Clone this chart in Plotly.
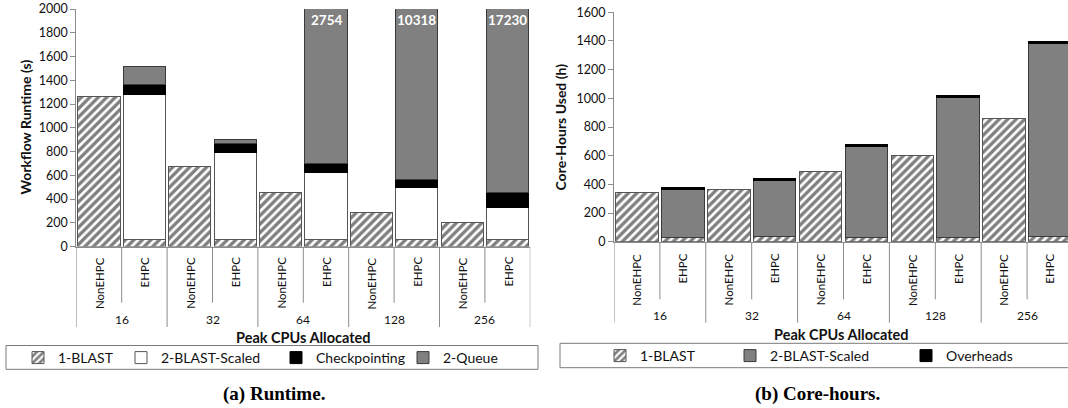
import plotly.graph_objects as go

W, H = 1068, 408

# ---- data -------------------------------------------------------------
cpus = ["16", "32", "64", "128", "256"]
configs = ["NonEHPC", "EHPC"]
categories = [f"{c} {k}" for c in cpus for k in configs]

# Workflow runtime (s), stacked components per bar
rt_blast = [1265, 60, 670, 60, 453, 60, 284, 60, 200, 60]
rt_blast_scaled = [None, 1220, None, 731, None, 564, None, 435, None, 272]
rt_checkpointing = [None, 81, None, 76, None, 74, None, 73, None, 124]
rt_queue = [None, 158, None, 33, None, 2056, None, 9750, None, 16774]

# Core-hours used (h), stacked components per bar
ch_blast = [341, 28, 362, 35, 487, 28, 605, 28, 863, 39]
ch_blast_scaled = [None, 336, None, 395, None, 635, None, 981, None, 1343]
ch_overheads = [None, 12, None, 12, None, 12, None, 11, None, 11]

rt_ticks = list(range(0, 2001, 200))
ch_ticks = list(range(0, 1601, 200))

# ---- helpers ----------------------------------------------------------
def px_x(p):
    return p / W


def px_y(p):
    return (H - p) / H


FONT = "Lato"
TEXT = "#111111"
AXIS = "#8c8c8c"
EDGE = "#555555"
GRAY = "#808080"

hatch = dict(shape="/", fgcolor="black", bgcolor="white", size=6, solidity=0.55)

fig = go.Figure()

# ---- runtime panel ----------------------------------------------------
fig.add_trace(go.Bar(x=categories, y=rt_blast, name="1-BLAST",
                     marker=dict(color="white", pattern=hatch,
                                 line=dict(color=EDGE, width=1)),
                     xaxis="x", yaxis="y", legend="legend"))
fig.add_trace(go.Bar(x=categories, y=rt_blast_scaled, name="2-BLAST-Scaled",
                     marker=dict(color="white", line=dict(color=EDGE, width=1)),
                     xaxis="x", yaxis="y", legend="legend2"))
fig.add_trace(go.Bar(x=categories, y=rt_checkpointing, name="Checkpointing",
                     marker=dict(color="black", line=dict(color="black", width=1)),
                     xaxis="x", yaxis="y", legend="legend3"))
fig.add_trace(go.Bar(x=categories, y=rt_queue, name="2-Queue",
                     marker=dict(color=GRAY, line=dict(color="#3a3a3a", width=1)),
                     xaxis="x", yaxis="y", legend="legend4"))

# ---- core-hours panel -------------------------------------------------
fig.add_trace(go.Bar(x=categories, y=ch_blast, name="1-BLAST",
                     marker=dict(color="white", pattern=hatch,
                                 line=dict(color=EDGE, width=1)),
                     xaxis="x2", yaxis="y2", legend="legend5"))
fig.add_trace(go.Bar(x=categories, y=ch_blast_scaled, name="2-BLAST-Scaled",
                     marker=dict(color=GRAY, line=dict(color="#3a3a3a", width=1)),
                     xaxis="x2", yaxis="y2", legend="legend6"))
fig.add_trace(go.Bar(x=categories, y=ch_overheads, name="Overheads",
                     marker=dict(color="black", line=dict(color="black", width=1)),
                     xaxis="x2", yaxis="y2", legend="legend7"))

# ---- axes -------------------------------------------------------------
L_X0, L_X1, L_Y0, L_Y1 = 76.3, 530.3, 246.5, 9.0
R_X0, R_Y0, R_Y1 = 614.0, 241.8, 12.3
R_STEP = 45.9

common_y = dict(showgrid=False, zeroline=False, showline=True, linecolor=AXIS,
                linewidth=1, ticks="outside", ticklen=5, tickcolor=AXIS,
                automargin=False,
                tickfont=dict(family=FONT, size=12.5, color=TEXT), fixedrange=True)
common_x = dict(type="category", showgrid=False, zeroline=False, showline=True,
                linecolor=AXIS, linewidth=1, ticks="", showticklabels=False,
                automargin=False,
                fixedrange=True, categoryorder="array", categoryarray=categories)

fig.update_layout(
    xaxis=dict(domain=[px_x(L_X0), px_x(L_X1)], range=[-0.5, 9.5], anchor="y", **common_x),
    yaxis=dict(domain=[px_y(L_Y0), px_y(L_Y1)], range=[0, 2000], tickvals=rt_ticks,
               anchor="x", **common_y),
    xaxis2=dict(domain=[px_x(R_X0), 1.0], range=[-0.5, -0.5 + (W - R_X0) / R_STEP],
                anchor="y2", **common_x),
    yaxis2=dict(domain=[px_y(R_Y0), px_y(R_Y1)], range=[0, 1600], tickvals=ch_ticks,
                anchor="x2", **common_y),
)

# ---- category axis labels and separators ------------------------------
shapes = []
annotations = []

panels = [
    dict(xref="x", label_top=255.0, inner_end=302.7, group_end=327.0, group_y=319.0,
         base=L_Y0),
    dict(xref="x2", label_top=251.7, inner_end=299.3, group_end=322.7, group_y=315.0,
         base=R_Y0),
]
for p in panels:
    for i, cat in enumerate(categories):
        annotations.append(dict(
            x=i, y=px_y(p["label_top"]), xref=p["xref"], yref="paper",
            text=cat.split(" ")[1], textangle=-90, showarrow=False,
            xanchor="center", yanchor="top",
            font=dict(family=FONT, size=11.5, color=TEXT)))
    for g, c in enumerate(cpus):
        annotations.append(dict(
            x=2 * g + 0.5, y=px_y(p["group_y"]), xref=p["xref"], yref="paper",
            text=c, showarrow=False, xanchor="center", yanchor="middle",
            font=dict(family=FONT, size=12, color=TEXT)))
        shapes.append(dict(type="line", xref=p["xref"], yref="paper",
                           x0=2 * g + 0.5, x1=2 * g + 0.5,
                           y0=px_y(p["base"]), y1=px_y(p["inner_end"]),
                           line=dict(color=AXIS, width=1)))
    for g in range(len(cpus) + 1):
        xg = 2 * g - 0.5
        shapes.append(dict(type="line", xref=p["xref"], yref="paper",
                           x0=xg, x1=xg, y0=px_y(p["base"]), y1=px_y(p["group_end"]),
                           line=dict(color=AXIS, width=1)))

# totals written on the bars that run past the top of the runtime axis
for i in range(len(categories)):
    parts = [rt_blast[i], rt_blast_scaled[i], rt_checkpointing[i], rt_queue[i]]
    total = sum(v for v in parts if v is not None)
    if total > 2000:
        annotations.append(dict(
            x=i, y=0.954, xref="x", yref="y domain", text=f"<b>{total}</b>",
            showarrow=False, xanchor="center", yanchor="middle",
            font=dict(family=FONT, size=13.5, color="white")))


def title_note(x, y, text, size, family=FONT, angle=0, color=TEXT):
    return dict(x=px_x(x), y=px_y(y), xref="paper", yref="paper", text=text,
                textangle=angle, showarrow=False, xanchor="center", yanchor="middle",
                font=dict(family=family, size=size, color=color))


annotations += [
    title_note(25, 127.5, "<b>Workflow Runtime (s)</b>", 14, angle=-90),
    title_note(560, 127.5, "<b>Core-Hours Used (h)</b>", 14, angle=-90),
    title_note(303, 337, "<b>Peak CPUs Allocated</b>", 14.5),
    title_note(841, 334, "<b>Peak CPUs Allocated</b>", 14.5),
    title_note(273.5, 394, "<b>(a) Runtime.</b>", 19, "Liberation Serif", color="black"),
    title_note(817, 394, "<b>(b) Core-hours.</b>", 19, "Liberation Serif", color="black"),
]

# legend frames
shapes += [
    dict(type="rect", xref="paper", yref="paper", x0=px_x(6), x1=px_x(538),
         y0=px_y(369.3), y1=px_y(345.5), line=dict(color="#7a7a7a", width=1)),
    dict(type="rect", xref="paper", yref="paper", x0=px_x(560), x1=px_x(W + 10),
         y0=px_y(367.7), y1=px_y(343.3), line=dict(color="#7a7a7a", width=1)),
]

# one legend per entry so each entry sits at its own spot in the frame
legend_spots = {
    "legend": (58, 358), "legend2": (161, 358), "legend3": (316, 358),
    "legend4": (443, 358),
    "legend5": (640, 356), "legend6": (770, 356), "legend7": (946, 356),
}
for key, (tx, ty) in legend_spots.items():
    fig.update_layout({key: dict(
        x=px_x(tx - 40), y=px_y(ty), xanchor="left", yanchor="middle",
        orientation="h", bgcolor="rgba(0,0,0,0)", borderwidth=0,
        font=dict(family=FONT, size=14, color=TEXT))})

fig.update_layout(
    width=W, height=H, margin=dict(l=0, r=0, t=0, b=0, pad=0),
    paper_bgcolor="white", plot_bgcolor="white",
    barmode="stack", bargap=0.07, showlegend=True,
    shapes=shapes, annotations=annotations,
    font=dict(family=FONT, color=TEXT),
)

fig.write_html("out.html")
